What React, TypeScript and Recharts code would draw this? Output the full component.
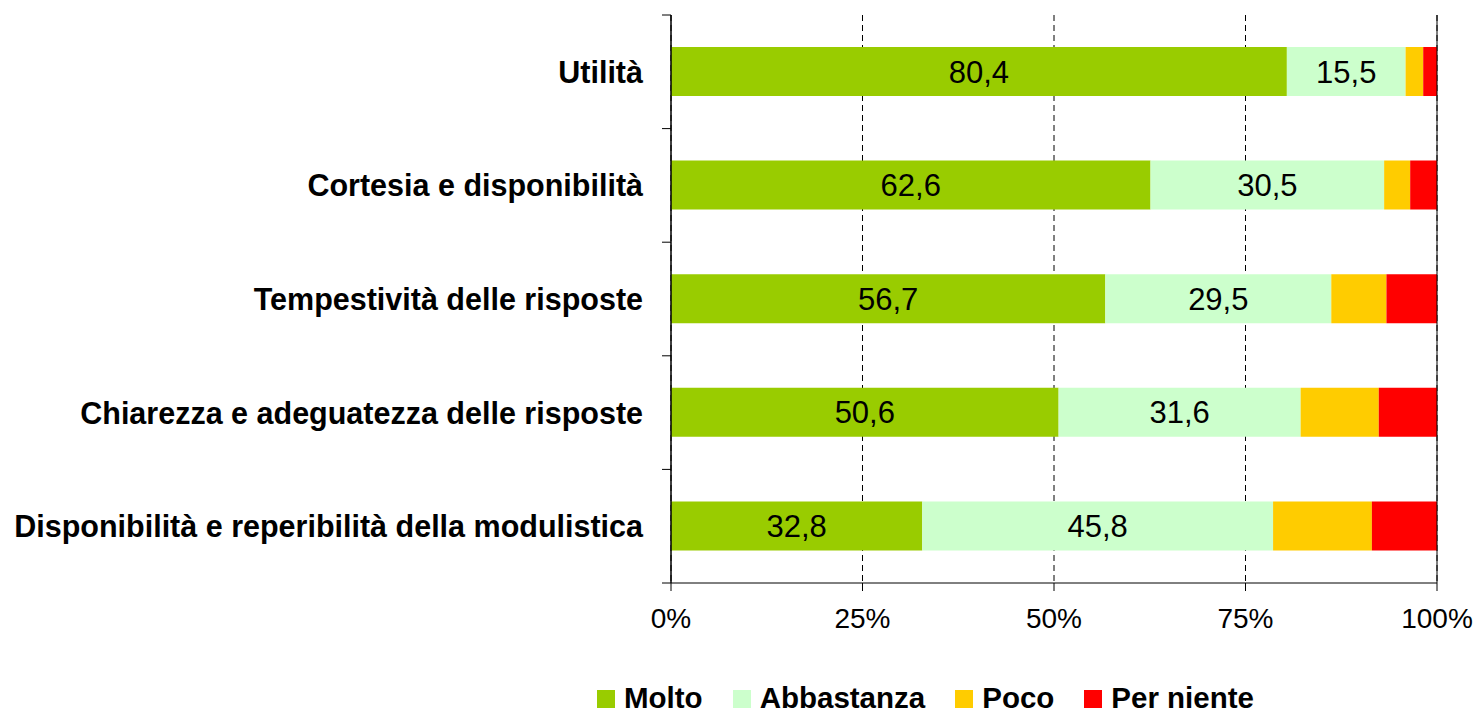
import {
  BarChart,
  Bar,
  XAxis,
  YAxis,
  CartesianGrid,
  Legend,
  LabelList,
  ReferenceLine,
} from "recharts";

const categories = [
  "Utilità",
  "Cortesia e disponibilità",
  "Tempestività delle risposte",
  "Chiarezza e adeguatezza delle risposte",
  "Disponibilità e reperibilità della modulistica",
];
const molto = [80.4, 62.6, 56.7, 50.6, 32.8];
const abbastanza = [15.5, 30.5, 29.5, 31.6, 45.8];
const poco = [2.3, 3.4, 7.2, 10.2, 12.9];
const perNiente = [1.8, 3.5, 6.6, 7.6, 8.5];
const seriesNames = ["Molto", "Abbastanza", "Poco", "Per niente"];
const xTicks = [0, 25, 50, 75, 100];

const FONT = '"Liberation Sans", Arial, Helvetica, sans-serif';

const WIDTH = 1475;
const HEIGHT = 714;
const MARGIN = { top: 15, right: 38, bottom: 71, left: 0 };
const X_AXIS_HEIGHT = 60;
const Y_AXIS_WIDTH = 671;
const Y_TICK_SIZE = 9;
const Y_TICK_MARGIN = 19;
const PLOT_HEIGHT = HEIGHT - MARGIN.top - MARGIN.bottom - X_AXIS_HEIGHT;

const data = categories.map((name, i) => ({
  name,
  molto: molto[i],
  abbastanza: abbastanza[i],
  poco: poco[i],
  perNiente: perNiente[i],
}));

const fmt = (v: any) => String(v).replace(".", ",");

// category label plus tick marks on the band boundaries (like Excel)
const CategoryTick = (props: any) => {
  const { x, y, payload, index } = props;
  const band = PLOT_HEIGHT / categories.length;
  const axisX = x + Y_TICK_SIZE + Y_TICK_MARGIN;
  const top = y - band / 2;
  return (
    <g>
      <line x1={axisX - Y_TICK_SIZE} x2={axisX} y1={top} y2={top} stroke="#000" />
      {index === categories.length - 1 && (
        <line
          x1={axisX - Y_TICK_SIZE}
          x2={axisX}
          y1={top + band}
          y2={top + band}
          stroke="#000"
        />
      )}
      <text
        x={x}
        y={y}
        textAnchor="end"
        dominantBaseline="central"
        fontFamily={FONT}
        fontWeight="bold"
        fontSize={30.5}
        fill="#000"
      >
        {payload.value}
      </text>
    </g>
  );
};

const LegendContent = (props: any) => {
  const items = [...(props.payload || [])].sort(
    (a: any, b: any) => seriesNames.indexOf(a.value) - seriesNames.indexOf(b.value)
  );
  return (
    <div style={{ display: "flex", alignItems: "baseline", fontFamily: FONT, lineHeight: 1 }}>
      {items.map((item: any) => (
        <div
          key={item.value}
          style={{ display: "flex", alignItems: "baseline", marginRight: 30 }}
        >
          <span
            style={{
              display: "inline-block",
              width: 18,
              height: 18,
              background: item.color,
              marginRight: 9,
            }}
          />
          <span style={{ fontSize: 29.5, fontWeight: "bold", color: "#000" }}>
            {item.value}
          </span>
        </div>
      ))}
    </div>
  );
};

export default function App() {
  return (
    <div style={{ width: WIDTH, height: HEIGHT, background: "#fff" }}>
      <style>{`body{margin:0}`}</style>
      <BarChart
        width={WIDTH}
        height={HEIGHT}
        data={data}
        layout="vertical"
        margin={MARGIN}
        barSize={49}
      >
        <CartesianGrid
          horizontal={false}
          stroke="#000"
          strokeDasharray="6 4"
        />
        <XAxis
          type="number"
          domain={[0, 100]}
          ticks={xTicks}
          tickFormatter={(v) => `${v}%`}
          height={X_AXIS_HEIGHT}
          axisLine={{ stroke: "#000" }}
          tickLine={{ stroke: "#000" }}
          tickSize={8}
          tickMargin={17}
          tick={{ fontFamily: FONT, fontSize: 28, fill: "#000" }}
          allowDataOverflow
        />
        <YAxis
          type="category"
          dataKey="name"
          width={Y_AXIS_WIDTH}
          axisLine={{ stroke: "#000" }}
          tickLine={false}
          tickSize={Y_TICK_SIZE}
          tickMargin={Y_TICK_MARGIN}
          tick={<CategoryTick />}
          interval={0}
        />
        <ReferenceLine x={0} stroke="#000" />
        <ReferenceLine x={100} stroke="#000" />
        <Legend
          layout="horizontal"
          verticalAlign="middle"
          align="center"
          content={<LegendContent />}
          wrapperStyle={{ left: 597, top: 683, bottom: "auto", width: "auto" }}
        />
        <Bar dataKey="molto" name="Molto" stackId="a" fill="#99CC00" isAnimationActive={false}>
          <LabelList
            dataKey="molto"
            position="center"
            formatter={fmt}
            fill="#000"
            fontSize={31}
            fontFamily={FONT}
          />
        </Bar>
        <Bar dataKey="abbastanza" name="Abbastanza" stackId="a" fill="#CCFFCC" isAnimationActive={false}>
          <LabelList
            dataKey="abbastanza"
            position="center"
            formatter={fmt}
            fill="#000"
            fontSize={31}
            fontFamily={FONT}
          />
        </Bar>
        <Bar dataKey="poco" name="Poco" stackId="a" fill="#FFCC00" isAnimationActive={false} />
        <Bar dataKey="perNiente" name="Per niente" stackId="a" fill="#FF0000" isAnimationActive={false} />
      </BarChart>
    </div>
  );
}
